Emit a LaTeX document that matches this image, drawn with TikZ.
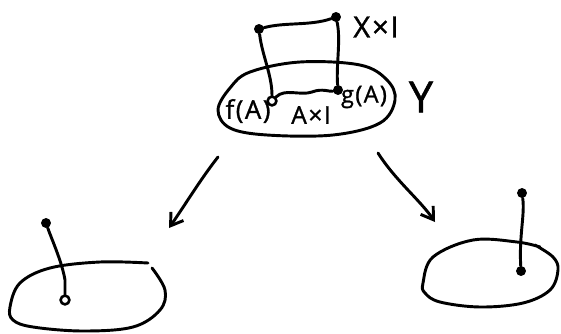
\documentclass[tikz,border=0pt]{standalone}
\usepackage{fontspec}
\setmainfont{Open Sans}
\newfontfamily\handfont[LetterSpace=6,FakeBold=1.2]{Open Sans}
\usetikzlibrary{arrows.meta}
\tikzset{
  ink/.style={line width=2.5pt, line cap=round, line join=round, black},
  solid dot/.style={circle, fill=black, inner sep=0pt, minimum size=8.5pt},
  ring dot/.style={circle, draw=black, fill=white, line width=2.2pt, inner sep=0pt, minimum size=7.5pt},
  lbl/.style={inner sep=0pt, font=\handfont\fontsize{#1}{#1}\selectfont},
  maparrow/.style={ink, -{Straight Barb[length=10pt,width=13pt,line width=2.5pt]}},
}
\begin{document}
\begin{tikzpicture}[x=0.03cm,y=-0.03cm]
\useasboundingbox (0,0) rectangle (561,333);
% ---------- top: Y with X x I ----------
\draw[ink] plot[smooth cycle, tension=0.6] coordinates {(218,110) (230,88) (250,72) (300,62) (360,65) (387,80) (395,100) (380,123) (333,135) (267,135) (230,128)};
\node[solid dot] (tl) at (259,29) {};
\node[solid dot] (tr) at (336,17) {};
\node[ring dot] (bl) at (272,101) {};
\node[solid dot] (br) at (338,90) {};
\draw[ink] (tl) .. controls (285,22) and (310,26) .. (tr);
\draw[ink] (tl) .. controls (262,55) and (272,75) .. (bl);
\draw[ink] (tr) .. controls (341,40) and (336,65) .. (br);
\draw[ink] (bl) .. controls (285,88) and (300,96) .. (312,92) .. controls (322,88) and (330,92) .. (br);
\node[lbl=25] (XI) at (376,27) {X×I};
\node[lbl=22] (fA) at (248,111) {f(A)};
\node[lbl=21] (AI) at (311,115) {A×I};
\node[lbl=20] (gA) at (364,97) {g(A)};
\node[lbl=37] (Y) at (421,97) {Y};
% ---------- arrows ----------
\coordinate (a1s) at (218,157);
\coordinate (a1e) at (169,228);
\coordinate (a2s) at (378,153);
\coordinate (a2e) at (435,222);
\draw[maparrow] (a1s) .. controls (200,180) and (185,205) .. (a1e);
\draw[maparrow] (a2s) .. controls (395,180) and (420,200) .. (a2e);
% ---------- bottom left ----------
\draw[ink] plot[smooth, tension=0.6] coordinates {(152,268) (165,290) (160,310) (133,327) (83,331) (33,327) (13,320) (10,307) (20,283) (50,268) (100,262) (148,263)};
\node[solid dot] (lt) at (46,223) {};
\node[ring dot] (lb) at (65,300) {};
\draw[ink] (lt) .. controls (52,240) and (62,262) .. (65,280) -- (lb);
% ---------- bottom right ----------
\draw[ink] plot[smooth, tension=0.6] coordinates {(540,247) (517,242) (473,240) (433,257) (423,283) (425,293) (440,302) (480,307) (523,303) (550,290) (558,270) (553,257) (535,245)};
\node[solid dot] (rt) at (522,193) {};
\node[solid dot] (rb) at (521,271) {};
\draw[ink] (rt) .. controls (525,215) and (519,235) .. (rb);
\end{tikzpicture}
\end{document}
